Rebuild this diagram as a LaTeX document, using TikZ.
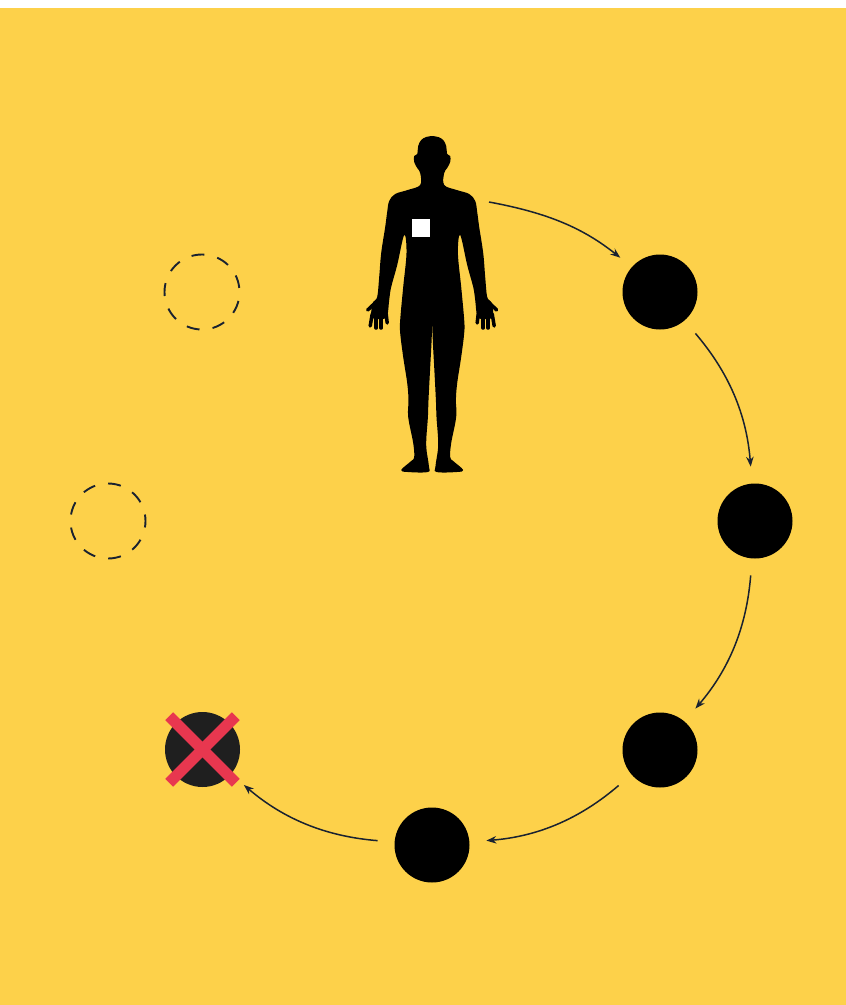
\documentclass[tikz,border=0pt]{standalone}
\usepackage{xcolor}
\usetikzlibrary{positioning, arrows.meta}
\definecolor{bgyellow}{HTML}{FDD14A}
\definecolor{crossred}{HTML}{E8374F}
\definecolor{arrowink}{HTML}{1A2230}

\begin{document}
\begin{tikzpicture}[
    x=1pt, y=-1pt,
    pill/.style={circle, fill=black, minimum size=75pt, inner sep=0pt, outer sep=0pt},
    deadpill/.style={circle, fill=black!88, minimum size=75pt, inner sep=0pt, outer sep=0pt},
    removed/.style={circle, draw=arrowink, line width=1.9pt, minimum size=75pt, inner sep=0pt, outer sep=0pt},
    link/.style={arrowink, line width=1.5pt, -{Stealth[length=10pt, width=7.5pt]}, bend left=18, shorten <=17pt, shorten >=17pt},
    crossline/.style={crossred, line width=11pt, shorten <=-9.6pt, shorten >=-9.6pt},
    finger/.style={black, line width=3.5pt, line cap=round},
    patch/.style={rectangle, fill=white, minimum size=18pt, inner sep=0pt, outer sep=0pt}
]
    \useasboundingbox (0,0) rectangle (846,1005);
    % Background
    \fill[bgyellow] (0,8) rectangle (846,1005);

    % Body
    \foreach \side in {1,-1} {
        \begin{scope}[shift={(432.2,0)}, xscale=\side]
            \fill[black] plot[smooth, tension=0.6] coordinates {
                (0,136) (6,137) (11,140) (14,146) (15,154) (18,156) (18,162) (15,168) (12,173) (12,185)
                (24.5,190) (37,194) (43,201) (45,212) (47,227) (51,253) (53,277) (55,297)
                (59,302) (61,312) (60,318) (50,319) (45,316) (43,300)
                (41,287) (35,265) (28,235) (25.7,253) (29,287) (32,320) (32,333)
                (29,357) (25,383) (23.7,400) (24,417) (19,443) (18,457)
                (21,461) (31,470) (24.5,472) (4.5,472) (3.3,466) (6,445) (4.3,417) (3.7,400)
                (2,367) (0.8,345) (0,325)} -- (-0.5,325) -- (-0.5,136) -- cycle;
            \draw[finger] (46,314) -- (45,323);
            \draw[finger] (51,316) -- (51,328);
            \draw[finger] (56,316) -- (56,328);
            \draw[finger] (60,314) -- (62,326);
            \draw[finger] (55,301) -- (64.5,310);
        \end{scope}
    }
    \node[patch] (device) at (421.3,228.3) {};
    \coordinate (shoulder) at (489,202);

    % Doses
    \node[pill] (dosea) at (660,292) {};
    \node[pill] (doseb) at (755,521) {};
    \node[pill] (dosec) at (660,750) {};
    \node[pill] (dosed) at (432,845) {};
    \node[deadpill] (dosee) at (202.5,749.5) {};

    % Skipped
    \node[removed, dash pattern=on 13pt off 13.18pt, dash phase=22.1pt] (gapa) at (202,292) {};
    \node[removed, dash pattern=on 13pt off 13.18pt, dash phase=6.5pt] (gapb) at (108,521) {};

    % Connections
    \draw[link, bend left=14, shorten <=0pt, shorten >=15pt] (shoulder) to (dosea);
    \draw[link] (dosea) to (doseb);
    \draw[link] (doseb) to (dosec);
    \draw[link] (dosec) to (dosed);
    \draw[link] (dosed) to (dosee);

    % Cross
    \draw[crossline] (dosee.north west) -- (dosee.south east);
    \draw[crossline] (dosee.north east) -- (dosee.south west);
\end{tikzpicture}
\end{document}
